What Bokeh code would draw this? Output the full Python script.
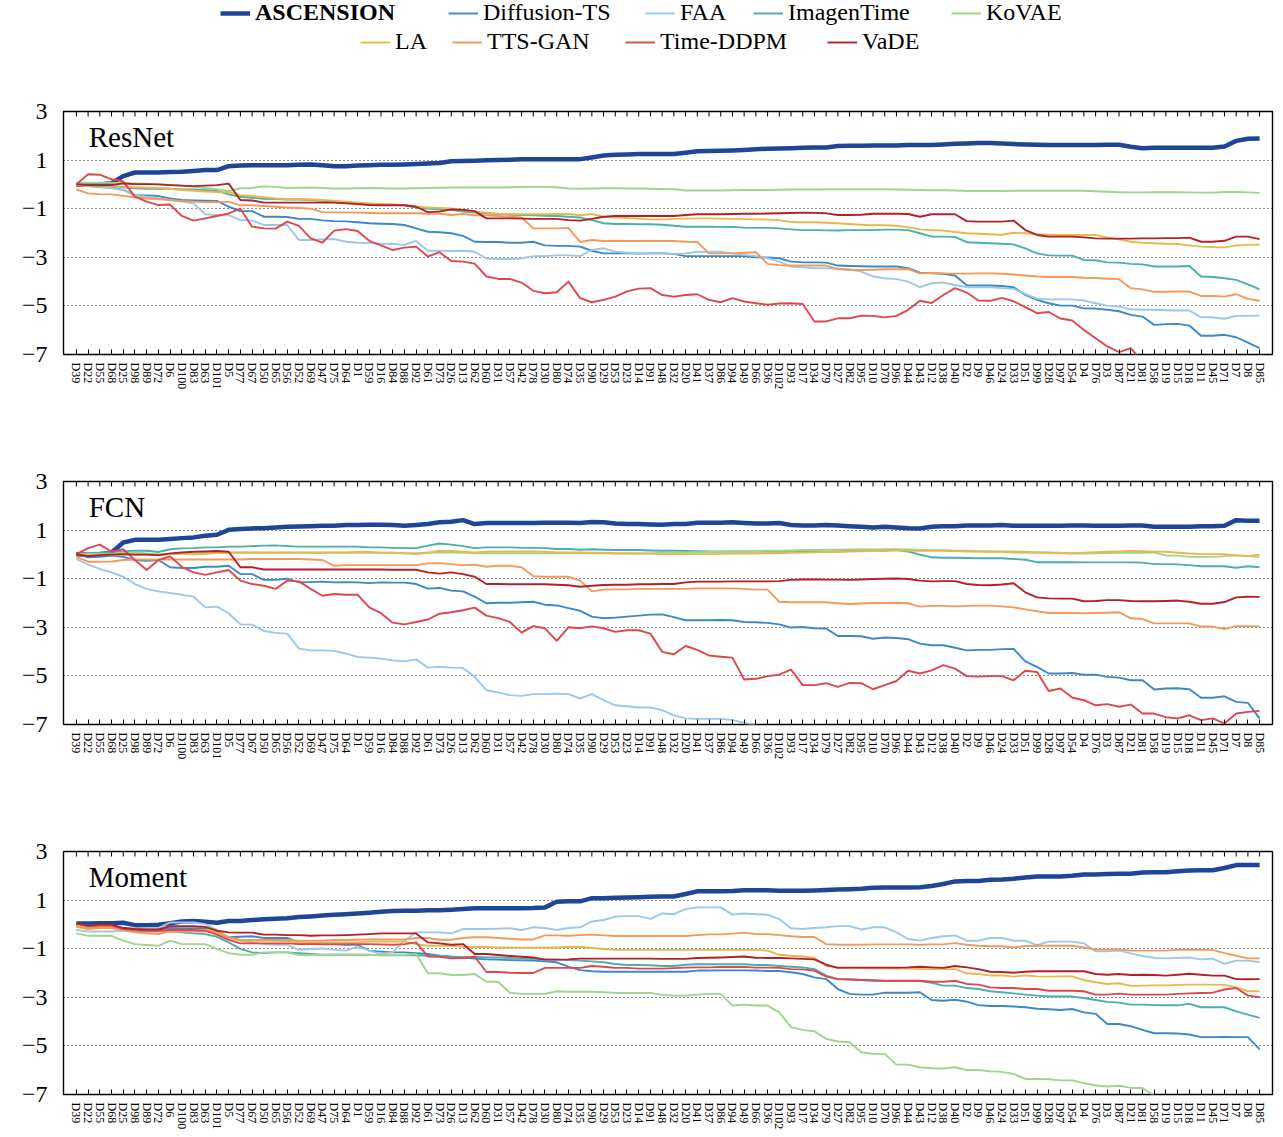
import math
import numpy as np
from bokeh.plotting import figure
from bokeh.models import Range1d, FixedTicker, Label, Legend, LegendItem, ColumnDataSource
from bokeh.layouts import column
from bokeh.embed import file_html
from bokeh.resources import INLINE

FONT = "Liberation Serif"
WIDTH = 1275

LABELS = ["D39", "D22", "D55", "D68", "D25", "D98", "D89", "D72", "D6", "D100",
          "D83", "D63", "D101", "D5", "D77", "D67", "D50", "D65", "D56", "D52",
          "D69", "D47", "D75", "D64", "D1", "D59", "D16", "D84", "D88", "D92",
          "D61", "D73", "D26", "D13", "D62", "D60", "D31", "D57", "D42", "D78",
          "D30", "D80", "D74", "D35", "D90", "D29", "D53", "D23", "D14", "D91",
          "D48", "D32", "D20", "D41", "D37", "D86", "D94", "D49", "D66", "D36",
          "D102", "D93", "D17", "D34", "D79", "D27", "D82", "D95", "D10", "D70",
          "D96", "D44", "D43", "D12", "D38", "D40", "D2", "D9", "D46", "D24",
          "D33", "D51", "D99", "D28", "D97", "D54", "D4", "D76", "D3", "D87",
          "D21", "D81", "D58", "D19", "D15", "D18", "D11", "D45", "D71", "D7",
          "D8", "D85"]

METHODS = ["ASCENSION", "Diffusion-TS", "FAA", "ImagenTime", "KoVAE",
           "LA", "TTS-GAN", "Time-DDPM", "VaDE"]
COLORS = ["#1f4596", "#3a89c9", "#9dc8e6", "#4aafaf", "#a0d48f",
          "#e6b94a", "#f39a5a", "#e0474c", "#b51f2a"]
WIDTHS = [4.5, 1.9, 1.9, 1.9, 1.9, 1.9, 1.9, 1.9, 1.9]

Y_TICKS = [3, 1, -1, -3, -5, -7]
Y_TICK_LABELS = ["3", "1", "\u22121", "\u22123", "\u22125", "\u22127"]
Y_GRID = [1, -1, -3, -5]

# ---------------- ResNet ----------------
RESNET_ASCENSION = [
    0.00, 0.00, 0.00, 0.05, 0.34, 0.49, 0.49, 0.49, 0.51, 0.52,
    0.55, 0.59, 0.59, 0.75, 0.78, 0.79, 0.79, 0.79, 0.79, 0.81,
    0.82, 0.79, 0.75, 0.75, 0.78, 0.79, 0.81, 0.81, 0.82, 0.84,
    0.86, 0.88, 0.95, 0.96, 0.97, 0.99, 1.00, 1.01, 1.03, 1.04,
    1.04, 1.04, 1.04, 1.04, 1.11, 1.19, 1.22, 1.23, 1.25, 1.25,
    1.25, 1.25, 1.30, 1.36, 1.37, 1.38, 1.40, 1.42, 1.45, 1.47,
    1.48, 1.49, 1.51, 1.52, 1.52, 1.58, 1.59, 1.59, 1.60, 1.60,
    1.60, 1.62, 1.62, 1.62, 1.64, 1.67, 1.68, 1.70, 1.70, 1.68,
    1.66, 1.64, 1.63, 1.62, 1.62, 1.62, 1.62, 1.62, 1.63, 1.63,
    1.55, 1.49, 1.51, 1.51, 1.51, 1.51, 1.51, 1.51, 1.56, 1.79,
    1.88, 1.89]
RESNET_DIFFUSION = [
    0.00, -0.07, -0.10, -0.12, -0.23, -0.44, -0.45, -0.48, -0.58, -0.64,
    -0.66, -0.67, -0.68, -0.92, -1.10, -1.10, -1.33, -1.33, -1.34, -1.42,
    -1.42, -1.48, -1.51, -1.52, -1.56, -1.60, -1.62, -1.63, -1.67, -1.81,
    -1.95, -1.97, -2.01, -2.12, -2.36, -2.37, -2.37, -2.40, -2.40, -2.36,
    -2.51, -2.53, -2.53, -2.56, -2.73, -2.84, -2.84, -2.84, -2.85, -2.84,
    -2.84, -2.86, -2.95, -2.95, -2.95, -2.95, -2.95, -2.95, -3.00, -3.01,
    -3.04, -3.18, -3.21, -3.21, -3.22, -3.34, -3.36, -3.37, -3.38, -3.38,
    -3.38, -3.45, -3.63, -3.66, -3.68, -3.75, -4.15, -4.16, -4.16, -4.18,
    -4.23, -4.55, -4.75, -4.89, -4.99, -4.99, -5.10, -5.11, -5.16, -5.22,
    -5.37, -5.44, -5.78, -5.75, -5.74, -5.81, -6.23, -6.23, -6.19, -6.29,
    -6.51, -6.74]
RESNET_FAA = [
    0.00, -0.07, -0.12, -0.16, -0.23, -0.47, -0.51, -0.58, -0.64, -0.71,
    -0.78, -1.23, -1.27, -1.26, -1.47, -1.49, -1.67, -1.67, -1.67, -2.29,
    -2.29, -2.26, -2.25, -2.36, -2.40, -2.41, -2.44, -2.45, -2.49, -2.33,
    -2.73, -2.73, -2.74, -2.73, -2.77, -3.05, -3.07, -3.07, -3.05, -2.95,
    -2.95, -2.92, -2.92, -2.95, -2.70, -2.63, -2.77, -2.81, -2.84, -2.84,
    -2.84, -2.86, -2.84, -2.77, -2.77, -2.77, -2.84, -2.90, -2.95, -3.04,
    -3.18, -3.38, -3.41, -3.45, -3.45, -3.47, -3.49, -3.59, -3.79, -3.86,
    -3.90, -4.00, -4.23, -4.07, -4.04, -4.14, -4.23, -4.23, -4.23, -4.27,
    -4.30, -4.51, -4.70, -4.73, -4.73, -4.73, -4.78, -4.89, -4.99, -5.03,
    -5.14, -5.16, -5.16, -5.18, -5.19, -5.19, -5.47, -5.47, -5.53, -5.41,
    -5.41, -5.40]
RESNET_IMAGENTIME = [
    0.00, -0.05, -0.05, -0.05, -0.12, -0.16, -0.18, -0.18, -0.18, -0.21,
    -0.21, -0.23, -0.27, -0.41, -0.51, -0.55, -0.59, -0.60, -0.62, -0.62,
    -0.64, -0.67, -0.71, -0.75, -0.78, -0.81, -0.82, -0.84, -0.86, -0.95,
    -0.99, -1.03, -1.05, -1.12, -1.16, -1.19, -1.22, -1.25, -1.26, -1.27,
    -1.29, -1.30, -1.33, -1.36, -1.47, -1.60, -1.63, -1.63, -1.64, -1.64,
    -1.66, -1.70, -1.74, -1.74, -1.74, -1.75, -1.75, -1.78, -1.79, -1.79,
    -1.81, -1.85, -1.88, -1.88, -1.89, -1.90, -1.88, -1.88, -1.88, -1.86,
    -1.86, -1.88, -2.01, -2.15, -2.15, -2.16, -2.38, -2.40, -2.42, -2.44,
    -2.47, -2.63, -2.84, -2.92, -2.93, -2.93, -3.11, -3.12, -3.21, -3.22,
    -3.27, -3.29, -3.38, -3.38, -3.38, -3.36, -3.79, -3.81, -3.86, -3.93,
    -4.11, -4.32]
RESNET_KOVAE = [
    0.07, 0.07, 0.07, 0.07, 0.05, 0.04, 0.02, 0.00, -0.02, -0.05,
    -0.10, -0.15, -0.20, -0.28, -0.16, -0.15, -0.08, -0.10, -0.15, -0.14,
    -0.13, -0.15, -0.17, -0.17, -0.16, -0.15, -0.16, -0.17, -0.17, -0.16,
    -0.15, -0.14, -0.13, -0.13, -0.13, -0.13, -0.13, -0.12, -0.11, -0.10,
    -0.10, -0.12, -0.17, -0.18, -0.17, -0.16, -0.16, -0.17, -0.17, -0.18,
    -0.19, -0.20, -0.25, -0.25, -0.25, -0.25, -0.24, -0.23, -0.23, -0.23,
    -0.22, -0.21, -0.21, -0.21, -0.20, -0.20, -0.20, -0.20, -0.20, -0.20,
    -0.21, -0.22, -0.23, -0.24, -0.24, -0.25, -0.27, -0.27, -0.27, -0.27,
    -0.26, -0.26, -0.26, -0.26, -0.26, -0.26, -0.26, -0.28, -0.30, -0.32,
    -0.33, -0.33, -0.32, -0.32, -0.32, -0.33, -0.34, -0.34, -0.31, -0.31,
    -0.33, -0.35]
RESNET_LA = [
    -0.03, -0.07, -0.07, -0.07, -0.10, -0.12, -0.14, -0.15, -0.18, -0.23,
    -0.26, -0.29, -0.32, -0.32, -0.44, -0.48, -0.53, -0.58, -0.60, -0.60,
    -0.62, -0.64, -0.67, -0.71, -0.74, -0.78, -0.81, -0.82, -0.85, -0.92,
    -0.95, -0.97, -0.99, -1.05, -1.12, -1.16, -1.21, -1.22, -1.23, -1.23,
    -1.23, -1.22, -1.22, -1.27, -1.22, -1.33, -1.36, -1.38, -1.41, -1.44,
    -1.44, -1.42, -1.41, -1.40, -1.40, -1.41, -1.42, -1.43, -1.44, -1.45,
    -1.47, -1.55, -1.56, -1.56, -1.58, -1.60, -1.63, -1.66, -1.68, -1.68,
    -1.70, -1.77, -1.85, -1.88, -1.90, -1.96, -2.01, -2.03, -2.05, -2.07,
    -1.99, -2.01, -2.05, -2.07, -2.08, -2.08, -2.08, -2.08, -2.18, -2.26,
    -2.36, -2.40, -2.42, -2.44, -2.45, -2.51, -2.56, -2.58, -2.59, -2.51,
    -2.49, -2.48]
RESNET_TTSGAN = [
    -0.21, -0.37, -0.40, -0.41, -0.47, -0.53, -0.58, -0.60, -0.64, -0.68,
    -0.71, -0.74, -0.73, -0.71, -0.86, -0.86, -0.89, -0.92, -0.95, -0.97,
    -1.00, -1.14, -1.15, -1.15, -1.16, -1.18, -1.19, -1.19, -1.19, -1.19,
    -1.21, -1.21, -1.26, -1.22, -1.27, -1.27, -1.30, -1.33, -1.36, -1.81,
    -1.81, -1.81, -1.79, -2.37, -2.29, -2.33, -2.33, -2.33, -2.33, -2.33,
    -2.33, -2.33, -2.36, -2.37, -2.84, -2.84, -2.84, -2.81, -2.79, -3.27,
    -3.32, -3.34, -3.34, -3.34, -3.34, -3.48, -3.52, -3.52, -3.51, -3.49,
    -3.49, -3.49, -3.66, -3.64, -3.66, -3.67, -3.67, -3.66, -3.66, -3.68,
    -3.71, -3.75, -3.79, -3.81, -3.81, -3.81, -3.84, -3.85, -3.88, -3.90,
    -4.27, -4.32, -4.42, -4.42, -4.41, -4.41, -4.59, -4.59, -4.62, -4.52,
    -4.71, -4.79]
RESNET_TIMEDDPM = [
    0.00, 0.42, 0.40, 0.21, 0.12, -0.50, -0.71, -0.85, -0.83, -1.30,
    -1.49, -1.40, -1.30, -1.19, -1.00, -1.74, -1.81, -1.82, -1.53, -1.71,
    -2.22, -2.40, -1.90, -1.84, -1.92, -2.32, -2.51, -2.70, -2.60, -2.56,
    -2.97, -2.79, -3.15, -3.18, -3.26, -3.79, -3.89, -3.89, -4.04, -4.38,
    -4.48, -4.44, -4.00, -4.68, -4.85, -4.75, -4.62, -4.40, -4.29, -4.27,
    -4.55, -4.62, -4.55, -4.52, -4.75, -4.85, -4.68, -4.82, -4.89, -4.95,
    -4.90, -4.89, -4.92, -5.64, -5.64, -5.51, -5.51, -5.40, -5.41, -5.47,
    -5.41, -5.16, -4.79, -4.88, -4.55, -4.27, -4.45, -4.78, -4.79, -4.67,
    -4.81, -5.05, -5.30, -5.25, -5.52, -5.60, -5.99, -6.33, -6.67, -6.90,
    -6.74, -7.30, None, None, None, None, None, None, None, None,
    None, None]
RESNET_VADE = [
    0.00, -0.03, -0.04, -0.03, 0.04, 0.01, 0.01, 0.00, -0.03, -0.05,
    -0.07, -0.05, -0.03, 0.03, -0.64, -0.66, -0.75, -0.75, -0.75, -0.75,
    -0.75, -0.75, -0.75, -0.78, -0.81, -0.85, -0.86, -0.86, -0.86, -0.92,
    -1.14, -1.12, -1.03, -1.05, -1.10, -1.40, -1.40, -1.40, -1.41, -1.42,
    -1.42, -1.42, -1.47, -1.49, -1.42, -1.33, -1.30, -1.30, -1.30, -1.30,
    -1.30, -1.30, -1.26, -1.23, -1.23, -1.23, -1.22, -1.21, -1.21, -1.20,
    -1.19, -1.18, -1.16, -1.17, -1.19, -1.26, -1.26, -1.25, -1.21, -1.21,
    -1.21, -1.22, -1.33, -1.23, -1.23, -1.23, -1.51, -1.53, -1.53, -1.53,
    -1.49, -1.88, -2.08, -2.15, -2.15, -2.15, -2.18, -2.22, -2.23, -2.23,
    -2.23, -2.22, -2.22, -2.21, -2.21, -2.19, -2.36, -2.36, -2.32, -2.15,
    -2.15, -2.25]

# ---------------- FCN ----------------
FCN_ASCENSION = [
    0.01, -0.01, 0.01, 0.08, 0.49, 0.60, 0.60, 0.60, 0.63, 0.67,
    0.70, 0.77, 0.81, 1.01, 1.05, 1.07, 1.08, 1.11, 1.14, 1.15,
    1.16, 1.18, 1.18, 1.21, 1.21, 1.22, 1.22, 1.21, 1.18, 1.21,
    1.25, 1.32, 1.34, 1.41, 1.25, 1.29, 1.29, 1.29, 1.29, 1.29,
    1.30, 1.30, 1.30, 1.29, 1.33, 1.32, 1.27, 1.25, 1.25, 1.23,
    1.22, 1.25, 1.25, 1.30, 1.30, 1.30, 1.32, 1.29, 1.27, 1.27,
    1.29, 1.21, 1.19, 1.19, 1.21, 1.19, 1.16, 1.14, 1.11, 1.14,
    1.11, 1.08, 1.07, 1.14, 1.16, 1.16, 1.19, 1.19, 1.19, 1.21,
    1.18, 1.18, 1.18, 1.18, 1.18, 1.19, 1.19, 1.18, 1.18, 1.18,
    1.19, 1.19, 1.14, 1.14, 1.14, 1.14, 1.16, 1.16, 1.18, 1.41,
    1.38, 1.38]
FCN_DIFFUSION = [
    0.01, -0.12, -0.10, -0.05, -0.10, -0.23, -0.26, -0.23, -0.53, -0.56,
    -0.56, -0.51, -0.51, -0.47, -0.81, -0.81, -1.05, -1.05, -1.00, -1.15,
    -1.14, -1.12, -1.15, -1.14, -1.15, -1.18, -1.15, -1.16, -1.16, -1.22,
    -1.41, -1.38, -1.49, -1.52, -1.74, -2.01, -1.99, -1.99, -1.97, -1.95,
    -2.07, -2.10, -2.21, -2.32, -2.56, -2.63, -2.60, -2.56, -2.52, -2.48,
    -2.47, -2.58, -2.71, -2.71, -2.71, -2.70, -2.71, -2.78, -2.79, -2.82,
    -2.88, -3.01, -2.99, -3.04, -3.05, -3.36, -3.36, -3.37, -3.47, -3.42,
    -3.44, -3.49, -3.67, -3.74, -3.74, -3.84, -3.95, -3.93, -3.93, -3.90,
    -3.89, -4.40, -4.63, -4.90, -4.90, -4.88, -4.95, -4.95, -5.04, -5.07,
    -5.18, -5.18, -5.56, -5.52, -5.51, -5.55, -5.90, -5.90, -5.84, -6.07,
    -6.11, -6.75]
FCN_FAA = [
    -0.19, -0.42, -0.60, -0.74, -0.92, -1.22, -1.42, -1.52, -1.59, -1.66,
    -1.74, -2.18, -2.15, -2.42, -2.88, -2.89, -3.15, -3.23, -3.26, -3.88,
    -3.95, -3.95, -3.97, -4.08, -4.22, -4.25, -4.29, -4.36, -4.40, -4.32,
    -4.66, -4.63, -4.66, -4.67, -5.04, -5.59, -5.68, -5.79, -5.82, -5.75,
    -5.75, -5.73, -5.75, -5.93, -5.75, -6.00, -6.21, -6.25, -6.30, -6.30,
    -6.41, -6.62, -6.75, -6.77, -6.77, -6.77, -6.82, -6.93, -7.03, -7.30,
    None, None, None, None, None, None, None, None, None, None,
    None, None, None, None, None, None, None, None, None, None,
    None, None, None, None, None, None, None, None, None, None,
    None, None, None, None, None, None, None, None, None, None,
    None, None]
FCN_IMAGENTIME = [
    0.01, 0.05, 0.07, 0.10, 0.12, 0.15, 0.15, 0.10, 0.21, 0.25,
    0.26, 0.29, 0.29, 0.32, 0.32, 0.34, 0.36, 0.37, 0.34, 0.32,
    0.32, 0.32, 0.32, 0.32, 0.32, 0.29, 0.29, 0.27, 0.26, 0.26,
    0.36, 0.45, 0.40, 0.34, 0.26, 0.29, 0.29, 0.29, 0.27, 0.27,
    0.26, 0.22, 0.22, 0.19, 0.21, 0.19, 0.18, 0.18, 0.18, 0.16,
    0.15, 0.15, 0.14, 0.13, 0.12, 0.12, 0.12, 0.12, 0.12, 0.11,
    0.11, 0.11, 0.11, 0.11, 0.11, 0.12, 0.14, 0.15, 0.15, 0.16,
    0.18, 0.12, -0.01, -0.12, -0.14, -0.14, -0.15, -0.16, -0.16, -0.16,
    -0.19, -0.22, -0.32, -0.32, -0.32, -0.32, -0.33, -0.33, -0.33, -0.33,
    -0.33, -0.34, -0.40, -0.40, -0.41, -0.44, -0.49, -0.49, -0.49, -0.55,
    -0.49, -0.53]
FCN_KOVAE = [
    0.01, 0.01, 0.01, 0.01, 0.07, 0.08, 0.04, 0.01, 0.01, 0.04,
    -0.01, 0.01, 0.07, 0.08, 0.08, 0.08, 0.08, 0.07, 0.07, 0.07,
    0.07, 0.07, 0.07, 0.07, 0.07, 0.07, 0.07, 0.07, 0.05, 0.05,
    0.07, 0.08, 0.08, 0.07, 0.05, 0.05, 0.05, 0.05, 0.05, 0.05,
    0.05, 0.05, 0.05, 0.05, 0.05, 0.05, 0.04, 0.04, 0.04, 0.04,
    0.07, 0.08, 0.08, 0.09, 0.10, 0.10, 0.12, 0.12, 0.13, 0.15,
    0.15, 0.16, 0.18, 0.18, 0.19, 0.19, 0.20, 0.21, 0.20, 0.21,
    0.21, 0.20, 0.18, 0.17, 0.17, 0.15, 0.15, 0.13, 0.12, 0.12,
    0.12, 0.11, 0.09, 0.08, 0.07, 0.04, 0.04, 0.05, 0.06, 0.07,
    0.07, 0.07, 0.08, -0.05, -0.05, -0.10, -0.10, -0.10, -0.07, -0.04,
    -0.07, -0.10]
FCN_LA = [
    0.01, -0.01, -0.01, -0.01, -0.01, -0.01, -0.01, -0.04, 0.01, 0.04,
    0.04, 0.05, 0.07, 0.07, 0.07, 0.07, 0.07, 0.08, 0.08, 0.08,
    0.08, 0.08, 0.08, 0.08, 0.10, 0.10, 0.07, 0.07, 0.05, 0.01,
    0.07, 0.14, 0.14, 0.11, 0.08, 0.11, 0.12, 0.12, 0.12, 0.12,
    0.11, 0.08, 0.08, 0.08, 0.07, 0.07, 0.05, 0.05, 0.04, 0.03,
    0.01, 0.01, 0.01, 0.01, 0.01, 0.02, 0.03, 0.03, 0.04, 0.05,
    0.05, 0.07, 0.08, 0.09, 0.10, 0.11, 0.12, 0.13, 0.14, 0.15,
    0.18, 0.15, 0.15, 0.15, 0.15, 0.14, 0.12, 0.12, 0.11, 0.11,
    0.08, 0.08, 0.07, 0.07, 0.05, 0.05, 0.07, 0.09, 0.11, 0.12,
    0.14, 0.13, 0.11, 0.11, 0.07, 0.04, 0.01, 0.01, 0.01, -0.04,
    -0.07, -0.01]
FCN_TTSGAN = [
    -0.10, -0.30, -0.30, -0.29, -0.23, -0.21, -0.21, -0.21, -0.21, -0.21,
    -0.21, -0.21, -0.21, -0.21, -0.21, -0.19, -0.19, -0.19, -0.19, -0.19,
    -0.21, -0.23, -0.47, -0.44, -0.44, -0.44, -0.44, -0.44, -0.44, -0.44,
    -0.37, -0.36, -0.40, -0.44, -0.42, -0.51, -0.47, -0.47, -0.53, -0.90,
    -0.92, -0.92, -0.92, -1.08, -1.52, -1.45, -1.44, -1.44, -1.42, -1.42,
    -1.42, -1.42, -1.42, -1.40, -1.40, -1.40, -1.40, -1.42, -1.45, -1.45,
    -1.95, -1.97, -1.97, -1.97, -1.97, -2.01, -2.04, -2.02, -2.00, -2.00,
    -1.99, -2.01, -2.15, -2.12, -2.12, -2.14, -2.12, -2.11, -2.11, -2.14,
    -2.18, -2.26, -2.34, -2.41, -2.41, -2.41, -2.42, -2.41, -2.40, -2.38,
    -2.63, -2.66, -2.84, -2.84, -2.84, -2.84, -2.97, -2.97, -3.07, -2.95,
    -2.95, -2.96]
FCN_TIMEDDPM = [
    0.01, 0.26, 0.40, 0.12, 0.21, -0.23, -0.64, -0.23, -0.08, -0.51,
    -0.74, -0.84, -0.74, -0.64, -1.08, -1.22, -1.29, -1.42, -1.08, -1.11,
    -1.42, -1.70, -1.63, -1.66, -1.66, -2.18, -2.42, -2.81, -2.88, -2.78,
    -2.68, -2.44, -2.38, -2.30, -2.19, -2.52, -2.62, -2.78, -3.22, -2.95,
    -3.04, -3.56, -3.00, -3.04, -2.96, -3.04, -3.19, -3.12, -3.12, -3.26,
    -4.01, -4.11, -3.77, -3.93, -4.16, -4.21, -4.25, -5.15, -5.12, -5.01,
    -4.95, -4.74, -5.38, -5.38, -5.30, -5.45, -5.29, -5.30, -5.55, -5.38,
    -5.21, -4.79, -4.90, -4.77, -4.56, -4.70, -5.01, -5.03, -5.01, -5.01,
    -5.18, -4.79, -4.84, -5.62, -5.52, -5.89, -6.00, -6.21, -6.16, -6.27,
    -6.18, -6.55, -6.55, -6.70, -6.75, -6.62, -6.82, -6.75, -6.96, -6.55,
    -6.48, -6.44]
FCN_VADE = [
    0.01, -0.07, -0.03, -0.01, 0.01, -0.01, -0.01, -0.03, 0.04, 0.08,
    0.11, 0.12, 0.14, 0.11, -0.53, -0.53, -0.62, -0.62, -0.62, -0.62,
    -0.62, -0.62, -0.62, -0.62, -0.62, -0.62, -0.62, -0.63, -0.63, -0.63,
    -0.74, -0.79, -0.74, -0.81, -0.92, -1.22, -1.22, -1.23, -1.23, -1.23,
    -1.23, -1.25, -1.27, -1.33, -1.29, -1.26, -1.25, -1.25, -1.23, -1.23,
    -1.22, -1.22, -1.15, -1.12, -1.12, -1.12, -1.11, -1.11, -1.11, -1.11,
    -1.10, -1.05, -1.03, -1.03, -1.04, -1.04, -1.05, -1.03, -1.01, -1.00,
    -0.99, -1.01, -1.08, -1.11, -1.10, -1.10, -1.22, -1.26, -1.27, -1.24,
    -1.19, -1.56, -1.77, -1.81, -1.82, -1.82, -1.93, -1.92, -1.88, -1.88,
    -1.92, -1.93, -1.93, -1.92, -1.90, -1.95, -2.03, -2.03, -1.96, -1.77,
    -1.74, -1.75]

# ---------------- Moment ----------------
MOMENT_ASCENSION = [
    0.04, 0.04, 0.05, 0.05, 0.07, -0.03, -0.03, -0.01, 0.05, 0.12,
    0.14, 0.11, 0.07, 0.14, 0.14, 0.18, 0.21, 0.23, 0.25, 0.30,
    0.33, 0.37, 0.40, 0.42, 0.45, 0.48, 0.52, 0.55, 0.56, 0.56,
    0.58, 0.58, 0.60, 0.63, 0.66, 0.66, 0.66, 0.66, 0.66, 0.67,
    0.70, 0.93, 0.95, 0.95, 1.08, 1.08, 1.10, 1.11, 1.12, 1.14,
    1.15, 1.15, 1.25, 1.36, 1.36, 1.36, 1.37, 1.41, 1.41, 1.41,
    1.38, 1.38, 1.38, 1.40, 1.42, 1.44, 1.45, 1.47, 1.51, 1.52,
    1.52, 1.52, 1.53, 1.58, 1.66, 1.77, 1.79, 1.79, 1.84, 1.85,
    1.88, 1.93, 1.97, 1.97, 1.97, 2.00, 2.05, 2.05, 2.07, 2.08,
    2.08, 2.14, 2.15, 2.15, 2.19, 2.22, 2.23, 2.23, 2.32, 2.44,
    2.44, 2.44]
MOMENT_DIFFUSION = [
    0.01, -0.05, -0.05, -0.05, -0.15, -0.19, -0.23, -0.23, -0.15, -0.16,
    -0.16, -0.16, -0.33, -0.53, -0.51, -0.49, -0.56, -0.56, -0.56, -0.75,
    -0.78, -0.81, -0.81, -0.84, -0.84, -1.08, -1.12, -1.15, -1.15, -1.19,
    -1.22, -1.29, -1.33, -1.36, -1.41, -1.44, -1.45, -1.47, -1.48, -1.49,
    -1.52, -1.56, -1.74, -1.88, -1.93, -1.95, -1.95, -1.95, -1.95, -1.95,
    -1.95, -1.95, -1.95, -1.90, -1.90, -1.89, -1.89, -1.89, -1.90, -1.92,
    -1.92, -1.97, -2.04, -2.18, -2.25, -2.66, -2.86, -2.89, -2.89, -2.81,
    -2.81, -2.81, -2.79, -3.11, -3.14, -3.10, -3.18, -3.32, -3.36, -3.36,
    -3.38, -3.41, -3.47, -3.49, -3.52, -3.48, -3.62, -3.68, -4.10, -4.10,
    -4.19, -4.34, -4.48, -4.48, -4.49, -4.53, -4.64, -4.64, -4.63, -4.64,
    -4.64, -5.14]
MOMENT_FAA = [
    -0.23, -0.29, -0.29, -0.29, -0.26, -0.21, -0.15, -0.15, 0.08, 0.08,
    0.08, 0.01, -0.23, -0.53, -0.67, -0.74, -0.81, -0.84, -0.84, -1.05,
    -1.01, -0.99, -1.05, -1.08, -0.92, -1.08, -1.22, -1.15, -0.67, -0.33,
    -0.33, -0.33, -0.37, -0.19, -0.19, -0.19, -0.18, -0.16, -0.23, -0.12,
    -0.15, -0.23, -0.15, -0.12, 0.12, 0.18, 0.32, 0.34, 0.34, 0.23,
    0.45, 0.42, 0.63, 0.70, 0.70, 0.70, 0.40, 0.45, 0.42, 0.40,
    0.22, -0.16, -0.19, -0.15, -0.12, -0.07, -0.07, -0.21, -0.12, -0.12,
    -0.33, -0.60, -0.67, -0.56, -0.49, -0.45, -0.67, -0.67, -0.56, -0.56,
    -0.67, -0.67, -0.85, -0.71, -0.71, -0.71, -0.78, -1.11, -1.11, -1.08,
    -1.19, -1.30, -1.38, -1.40, -1.38, -1.36, -1.44, -1.41, -1.62, -1.49,
    -1.49, -1.55]
MOMENT_IMAGENTIME = [
    -0.05, -0.15, -0.12, -0.12, -0.23, -0.26, -0.29, -0.29, -0.29, -0.33,
    -0.37, -0.40, -0.51, -0.74, -1.01, -1.15, -1.18, -1.15, -1.15, -1.19,
    -1.22, -1.25, -1.25, -1.25, -1.25, -1.25, -1.27, -1.27, -1.27, -1.27,
    -1.29, -1.29, -1.33, -1.36, -1.33, -1.36, -1.36, -1.38, -1.42, -1.42,
    -1.44, -1.45, -1.47, -1.49, -1.52, -1.56, -1.63, -1.67, -1.67, -1.68,
    -1.71, -1.71, -1.66, -1.64, -1.64, -1.64, -1.64, -1.64, -1.67, -1.67,
    -1.71, -1.74, -1.77, -1.84, -2.11, -2.25, -2.26, -2.29, -2.32, -2.33,
    -2.33, -2.33, -2.33, -2.40, -2.52, -2.52, -2.62, -2.66, -2.75, -2.79,
    -2.84, -2.89, -2.93, -2.97, -2.97, -2.97, -3.03, -3.11, -3.19, -3.22,
    -3.30, -3.30, -3.32, -3.33, -3.33, -3.27, -3.41, -3.41, -3.41, -3.58,
    -3.71, -3.85]
MOMENT_KOVAE = [
    -0.37, -0.47, -0.47, -0.47, -0.67, -0.81, -0.85, -0.88, -0.67, -0.81,
    -0.81, -0.81, -1.01, -1.18, -1.25, -1.25, -1.15, -1.15, -1.15, -1.26,
    -1.26, -1.26, -1.25, -1.25, -1.26, -1.26, -1.26, -1.26, -1.26, -1.22,
    -2.01, -2.01, -2.08, -2.08, -2.04, -2.36, -2.36, -2.81, -2.86, -2.86,
    -2.86, -2.75, -2.77, -2.77, -2.77, -2.79, -2.82, -2.82, -2.82, -2.82,
    -2.90, -2.93, -2.93, -2.89, -2.86, -2.86, -3.34, -3.30, -3.34, -3.34,
    -3.62, -4.23, -4.34, -4.40, -4.71, -4.82, -4.85, -5.26, -5.33, -5.33,
    -5.77, -5.77, -5.88, -5.92, -5.93, -5.88, -5.99, -5.99, -6.05, -6.07,
    -6.15, -6.36, -6.36, -6.37, -6.42, -6.42, -6.53, -6.63, -6.67, -6.64,
    -6.73, -6.73, -7.04, -7.30, None, None, None, None, None, None,
    None, None]
MOMENT_LA = [
    -0.05, -0.10, -0.07, -0.07, -0.19, -0.23, -0.26, -0.29, -0.23, -0.23,
    -0.23, -0.23, -0.26, -0.53, -0.67, -0.67, -0.67, -0.67, -0.70, -0.74,
    -0.75, -0.75, -0.74, -0.74, -0.74, -0.71, -0.71, -0.71, -0.71, -0.81,
    -0.88, -0.88, -0.88, -0.92, -0.93, -0.93, -0.95, -0.95, -0.96, -0.96,
    -0.95, -0.95, -0.93, -0.92, -0.97, -1.01, -1.05, -1.05, -1.05, -1.05,
    -1.05, -1.05, -1.05, -1.05, -1.05, -1.05, -1.05, -1.05, -1.05, -1.08,
    -1.25, -1.29, -1.32, -1.38, -1.70, -1.77, -1.79, -1.80, -1.81, -1.81,
    -1.82, -1.82, -1.84, -1.84, -1.84, -1.84, -2.01, -2.04, -2.10, -2.10,
    -2.15, -2.10, -2.14, -2.15, -2.14, -2.14, -2.29, -2.38, -2.45, -2.42,
    -2.53, -2.52, -2.51, -2.51, -2.49, -2.48, -2.48, -2.48, -2.49, -2.59,
    -2.75, -2.75]
MOMENT_TTSGAN = [
    -0.10, -0.19, -0.15, -0.15, -0.23, -0.33, -0.37, -0.40, -0.29, -0.29,
    -0.29, -0.29, -0.33, -0.53, -0.64, -0.64, -0.64, -0.64, -0.64, -0.67,
    -0.67, -0.67, -0.64, -0.64, -0.63, -0.62, -0.62, -0.62, -0.62, -0.56,
    -0.56, -0.63, -0.63, -0.56, -0.53, -0.53, -0.56, -0.59, -0.62, -0.62,
    -0.45, -0.45, -0.47, -0.44, -0.42, -0.45, -0.48, -0.48, -0.48, -0.48,
    -0.48, -0.48, -0.48, -0.44, -0.41, -0.41, -0.38, -0.34, -0.40, -0.40,
    -0.44, -0.49, -0.52, -0.52, -0.81, -0.84, -0.84, -0.84, -0.82, -0.82,
    -0.82, -0.82, -0.84, -0.82, -0.82, -0.77, -0.84, -0.88, -0.90, -0.90,
    -0.95, -0.89, -0.88, -0.88, -0.88, -0.88, -0.95, -1.03, -1.04, -1.03,
    -1.08, -1.08, -1.08, -1.08, -1.05, -1.05, -1.05, -1.05, -1.18, -1.29,
    -1.40, -1.40]
MOMENT_TIMEDDPM = [
    0.04, -0.07, -0.05, -0.05, -0.19, -0.23, -0.26, -0.26, -0.23, -0.23,
    -0.23, -0.26, -0.42, -0.64, -0.78, -0.78, -0.78, -0.78, -0.78, -0.81,
    -0.81, -0.82, -0.82, -0.81, -0.81, -0.81, -0.82, -0.84, -0.81, -0.74,
    -1.32, -1.33, -1.40, -1.38, -1.33, -1.96, -1.96, -1.99, -2.00, -2.00,
    -1.79, -1.79, -1.79, -1.79, -1.71, -1.74, -1.79, -1.79, -1.82, -1.82,
    -1.82, -1.80, -1.78, -1.77, -1.77, -1.75, -1.75, -1.75, -1.78, -1.78,
    -1.79, -1.84, -1.85, -1.90, -2.15, -2.25, -2.27, -2.29, -2.30, -2.32,
    -2.32, -2.32, -2.32, -2.36, -2.36, -2.32, -2.45, -2.48, -2.59, -2.62,
    -2.62, -2.66, -2.66, -2.73, -2.73, -2.73, -2.75, -2.89, -2.89, -2.85,
    -2.89, -2.89, -2.89, -2.89, -2.86, -2.84, -2.82, -2.81, -2.68, -2.62,
    -2.93, -3.00]
MOMENT_VADE = [
    0.04, -0.05, -0.01, -0.01, -0.15, -0.19, -0.21, -0.21, -0.07, -0.07,
    -0.07, -0.10, -0.26, -0.33, -0.34, -0.34, -0.42, -0.42, -0.44, -0.44,
    -0.47, -0.45, -0.45, -0.44, -0.42, -0.40, -0.37, -0.37, -0.37, -0.37,
    -0.74, -0.78, -0.84, -0.81, -1.22, -1.22, -1.26, -1.30, -1.33, -1.36,
    -1.45, -1.45, -1.44, -1.41, -1.41, -1.41, -1.41, -1.41, -1.41, -1.41,
    -1.42, -1.42, -1.42, -1.38, -1.37, -1.36, -1.34, -1.32, -1.37, -1.38,
    -1.38, -1.40, -1.42, -1.44, -1.66, -1.79, -1.78, -1.78, -1.78, -1.78,
    -1.78, -1.77, -1.74, -1.77, -1.79, -1.71, -1.77, -1.84, -1.95, -1.96,
    -1.99, -1.95, -1.93, -1.93, -1.93, -1.93, -1.93, -2.04, -2.07, -2.04,
    -2.08, -2.07, -2.08, -2.11, -2.07, -2.03, -2.07, -2.11, -2.11, -2.25,
    -2.26, -2.25]

PANELS = [
    ("ResNet", [RESNET_ASCENSION, RESNET_DIFFUSION, RESNET_FAA, RESNET_IMAGENTIME, RESNET_KOVAE,
                RESNET_LA, RESNET_TTSGAN, RESNET_TIMEDDPM, RESNET_VADE]),
    ("FCN", [FCN_ASCENSION, FCN_DIFFUSION, FCN_FAA, FCN_IMAGENTIME, FCN_KOVAE,
             FCN_LA, FCN_TTSGAN, FCN_TIMEDDPM, FCN_VADE]),
    ("Moment", [MOMENT_ASCENSION, MOMENT_DIFFUSION, MOMENT_FAA, MOMENT_IMAGENTIME, MOMENT_KOVAE,
                MOMENT_LA, MOMENT_TTSGAN, MOMENT_TIMEDDPM, MOMENT_VADE]),
]


def build_panel(title, series, height, top, bottom):
    n = len(LABELS)
    y_lo, y_hi = Y_TICKS[-1], Y_TICKS[0]
    p = figure(width=WIDTH, height=height, x_range=Range1d(-1.1, n - 1 + 1.1), y_range=Range1d(y_lo, y_hi),
               output_backend="svg", toolbar_location=None,
               min_border_left=63, min_border_right=3, min_border_top=top, min_border_bottom=bottom)
    p.outline_line_color = "black"
    p.outline_line_width = 1.4
    p.xgrid.visible = False
    g = p.ygrid[0]
    g.ticker = FixedTicker(ticks=Y_GRID)
    g.grid_line_color = "#222222"
    g.grid_line_dash = "1 3"
    g.grid_line_width = 1.1

    xa = p.xaxis[0]
    xa.ticker = FixedTicker(ticks=list(range(n)))
    xa.major_label_overrides = {i: lab for i, lab in enumerate(LABELS)}
    xa.major_label_orientation = -math.pi / 2
    xa.major_label_text_font = FONT
    xa.major_label_text_font_size = "12px"
    xa.major_label_text_color = "black"
    xa.major_label_standoff = 8
    xa.major_tick_in = 5
    xa.major_tick_out = 0
    xa.major_tick_line_color = "black"
    xa.minor_tick_line_color = None
    xa.axis_line_color = None

    ya = p.yaxis[0]
    ya.ticker = FixedTicker(ticks=Y_TICKS)
    ya.major_label_overrides = {t: s for t, s in zip(Y_TICKS, Y_TICK_LABELS)}
    ya.major_label_text_font = FONT
    ya.major_label_text_font_size = "24px"
    ya.major_label_text_color = "black"
    ya.major_label_standoff = 16
    ya.major_tick_in = 0
    ya.major_tick_out = 0
    ya.minor_tick_line_color = None
    ya.axis_line_color = None

    xs = list(range(n))
    # inward tick marks along the top edge of the frame, at the category positions
    tick_len = (y_hi - y_lo) * 5.0 / 243.0
    p.segment(x0=xs, y0=[y_hi] * n, x1=xs, y1=[y_hi - tick_len] * n, line_color="black", line_width=1)

    for vals, col, w in zip(series, COLORS, WIDTHS):
        y = np.array([np.nan if v is None else v for v in vals], dtype=float)
        src = ColumnDataSource(dict(x=xs, y=y))
        p.line("x", "y", source=src, line_color=col, line_width=w, line_join="round")

    p.add_layout(Label(x=1.05, y=1.97, text=title, text_font=FONT, text_font_size="29px",
                       text_baseline="middle", text_align="left", text_color="black"))
    return p


# legend strip
leg = figure(width=WIDTH, height=83, output_backend="svg", toolbar_location=None,
             x_range=Range1d(0, 1), y_range=Range1d(0, 1), min_border=0)
leg.axis.visible = False
leg.grid.visible = False
leg.outline_line_color = None
renderers = []
for col, w in zip(COLORS, WIDTHS):
    # dummy renderers placed outside the visible range: only their legend glyphs show
    renderers.append(leg.line(x=[-3, -2], y=[-3, -2], line_color=col, line_width=w))

# legend entry anchors (screen px)
LEG_POS = [(157, 57), (385, 57), (582, 57), (690, 57), (888, 57),
           (297, 28), (389, 28), (562, 28), (764, 28)]
for i, (name, r) in enumerate(zip(METHODS, renderers)):
    lg = Legend(items=[LegendItem(label=name, renderers=[r])], location=LEG_POS[i],
                orientation="horizontal", label_text_font=FONT, label_text_font_size="24px",
                label_text_color="black", glyph_width=30, glyph_height=22, label_standoff=5,
                padding=0, margin=0, border_line_color=None, background_fill_alpha=0)
    if i == 0:
        lg.label_text_font_style = "bold"
    leg.add_layout(lg)

p1 = build_panel(PANELS[0][0], PANELS[0][1], 378, 28, 107)
p2 = build_panel(PANELS[1][0], PANELS[1][1], 370, 20, 107)
p3 = build_panel(PANELS[2][0], PANELS[2][1], 303, 20, 40)

layout = column(leg, p1, p2, p3, spacing=0)
open("out.html", "w").write(file_html(layout, INLINE))
